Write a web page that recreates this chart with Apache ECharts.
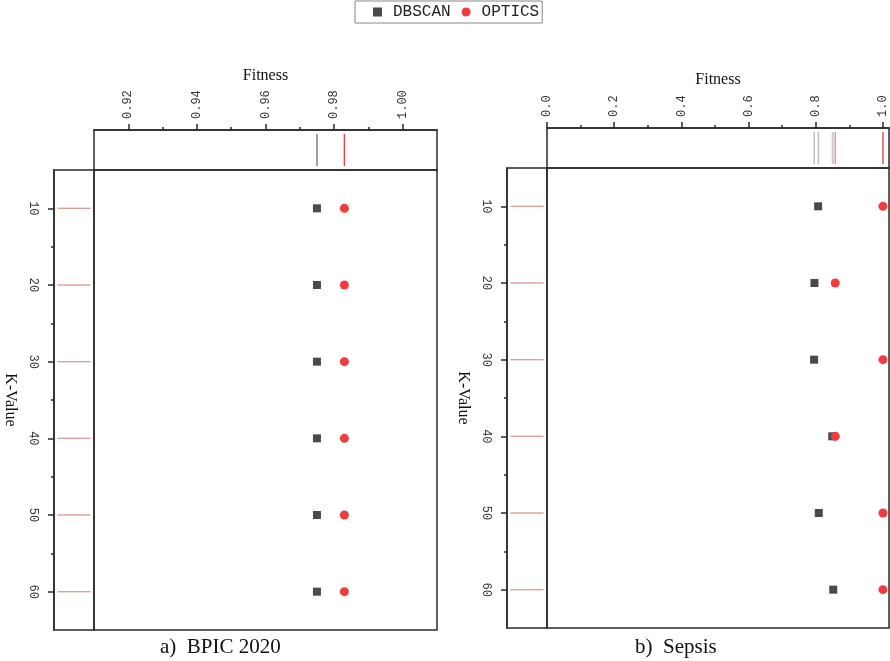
<!DOCTYPE html>
<html>
<head>
<meta charset="utf-8">
<script src="https://cdn.jsdelivr.net/npm/echarts@6/dist/echarts.min.js"></script>
<style>html,body{margin:0;padding:0;background:#fff}#c{width:890px;height:661px}</style>
</head>
<body>
<div id="c"></div>
<script>
// ---- data ----
var kValues = [10, 20, 30, 40, 50, 60];
var bpicDBSCAN = [0.975, 0.975, 0.975, 0.975, 0.975, 0.975];
var bpicOPTICS = [0.983, 0.983, 0.983, 0.983, 0.983, 0.983];
var sepsisDBSCAN = [0.807, 0.796, 0.795, 0.849, 0.809, 0.852];
var sepsisOPTICS = [1.0, 0.858, 1.0, 0.858, 1.0, 1.0];
var bpicTicks = [0.92, 0.94, 0.96, 0.98, 1.00];
var bpicMinor = [0.93, 0.95, 0.97, 0.99];
var sepsisTicks = [0.0, 0.2, 0.4, 0.6, 0.8, 1.0];
var sepsisMinor = [0.1, 0.3, 0.5, 0.7, 0.9];
var kTicks = [10, 20, 30, 40, 50, 60];
var kMinor = [15, 25, 35, 45, 55];
var captions = ['a)  BPIC 2020', 'b)  Sepsis'];

var LINE = '#2a2a2a';
var MONO = 'Liberation Mono';
var SERIF = 'Liberation Serif';
var SQ = '#4a4a4a';
var RD = '#f03c3c';
var RUG_G = 'rgba(140,140,140,0.6)';
var RUG_R = 'rgba(235,60,60,0.6)';

function pts(xs, ys) { return xs.map(function (x, i) { return [x, ys[i]]; }); }
function rugX(xs) { return xs.map(function (x) { return [x, 0.5]; }); }
function rugY(ys) { return ys.map(function (y) { return [0.5, y]; }); }

var gridStyle = { show: true, borderColor: LINE, borderWidth: 1.5, backgroundColor: 'transparent' };
function grid(l, t, w, h) { return Object.assign({ left: l, top: t, width: w, height: h }, gridStyle); }

var hidden = { show: false };
function hidAxis(gi, min, max, inv) {
  return { type: 'value', gridIndex: gi, min: min, max: max, inverse: !!inv, show: false, splitLine: hidden,
    axisLine: { show: false, onZero: false } };
}
function majorX(gi, min, max, ticks, fmt, gap) {
  return {
    type: 'value', gridIndex: gi, min: min, max: max, position: 'top',
    name: 'Fitness', nameLocation: 'middle', nameGap: gap,
    nameTextStyle: { fontFamily: SERIF, fontSize: 16, color: '#111' },
    axisLine: { show: true, onZero: false, lineStyle: { color: LINE, width: 1.5 } },
    axisTick: { show: true, inside: false, length: 6, customValues: ticks, lineStyle: { color: LINE, width: 1.5 } },
    axisLabel: { show: true, customValues: ticks, rotate: -90, margin: 11, fontFamily: MONO, fontSize: 12, color: '#333',
      formatter: function (v) { return v.toFixed(fmt); } },
    splitLine: hidden
  };
}
function minorX(gi, min, max, ticks) {
  return {
    type: 'value', gridIndex: gi, min: min, max: max, position: 'top', offset: 40,
    axisLine: { show: false, onZero: false },
    axisTick: { show: true, inside: false, length: 3, customValues: ticks, lineStyle: { color: LINE, width: 1.5 } },
    axisLabel: hidden, splitLine: hidden
  };
}
function majorY(gi, gap) {
  return {
    type: 'value', gridIndex: gi, min: 5, max: 65, inverse: true, position: 'left',
    name: 'K-Value', nameLocation: 'middle', nameGap: gap, nameRotate: -90,
    nameTextStyle: { fontFamily: SERIF, fontSize: 16, color: '#111' },
    axisLine: { show: true, onZero: false, lineStyle: { color: LINE, width: 1.5 } },
    axisTick: { show: true, inside: false, length: 6, customValues: kTicks, lineStyle: { color: LINE, width: 1.5 } },
    axisLabel: { show: true, customValues: kTicks, rotate: -90, margin: 15, fontFamily: MONO, fontSize: 12, color: '#333' },
    splitLine: hidden
  };
}
function minorY(gi) {
  return {
    type: 'value', gridIndex: gi, min: 5, max: 65, inverse: true, position: 'left', offset: 40,
    axisLine: { show: false, onZero: false },
    axisTick: { show: true, inside: false, length: 3, customValues: kMinor, lineStyle: { color: LINE, width: 1.5 } },
    axisLabel: hidden, splitLine: hidden
  };
}

function scatter(name, xi, data, sym, size, color) {
  return { type: 'scatter', name: name, xAxisIndex: xi, yAxisIndex: xi, data: data, symbol: sym, symbolSize: size,
    itemStyle: { color: color, opacity: 1 }, emphasis: { disabled: true }, silent: true, z: 3 };
}
function rug(name, xi, data, size, color) {
  return { type: 'scatter', name: name, xAxisIndex: xi, yAxisIndex: xi, data: data, symbol: 'rect', symbolSize: size,
    itemStyle: { color: color }, emphasis: { disabled: true }, silent: true, z: 2 };
}

var option = {
  animation: false,
  backgroundColor: '#fff',
  legend: {
    left: 355, top: 1, orient: 'horizontal',
    padding: [3, 3, 3, 18], itemGap: 11, itemWidth: 9, itemHeight: 9,
    borderColor: '#888', borderWidth: 1,
    textStyle: { fontFamily: MONO, fontSize: 16, color: '#222', padding: [0, 0, 0, 6] },
    data: [{ name: 'DBSCAN', icon: 'rect' }, { name: 'OPTICS', icon: 'circle' }]
  },
  grid: [
    grid(54, 170, 40, 460),   // 0 left rug
    grid(94, 170, 343, 460),  // 1 left main
    grid(94, 130, 343, 40),   // 2 left top
    grid(507, 168, 40, 460),  // 3 right rug
    grid(547, 168, 342, 460), // 4 right main
    grid(547, 128, 342, 40)   // 5 right top
  ],
  xAxis: [
    hidAxis(0, 0, 1),
    minorX(1, 0.91, 1.01, bpicMinor),
    majorX(2, 0.91, 1.01, bpicTicks, 2, 46),
    hidAxis(3, 0, 1),
    minorX(4, 0, 1.018, sepsisMinor),
    majorX(5, 0, 1.018, sepsisTicks, 1, 40)
  ],
  yAxis: [
    majorY(0, 36),
    minorY(1),
    hidAxis(2, 0, 1),
    majorY(3, 36),
    minorY(4),
    hidAxis(5, 0, 1)
  ],
  graphic: [
    { type: 'text', left: 160, top: 637, style: { text: captions[0], font: '21px "Liberation Serif"', fill: '#111' } },
    { type: 'text', left: 635, top: 637, style: { text: captions[1], font: '21px "Liberation Serif"', fill: '#111' } }
  ],
  series: [
    // left panel
    rug('DBSCAN rugY L', 0, rugY(kValues), [33, 1], RUG_G),
    rug('OPTICS rugY L', 0, rugY(kValues), [33, 1], RUG_R),
    scatter('DBSCAN', 1, pts(bpicDBSCAN, kValues), 'rect', 8, SQ),
    scatter('OPTICS', 1, pts(bpicOPTICS, kValues), 'circle', 9, RD),
    rug('DBSCAN rugX L', 2, rugX(bpicDBSCAN), [1, 32], RUG_G),
    rug('OPTICS rugX L', 2, rugX(bpicOPTICS), [1, 32], RUG_R),
    // right panel
    rug('DBSCAN rugY R', 3, rugY(kValues), [33, 1], RUG_G),
    rug('OPTICS rugY R', 3, rugY(kValues), [33, 1], RUG_R),
    scatter('DBSCAN', 4, pts(sepsisDBSCAN, kValues), 'rect', 8, SQ),
    scatter('OPTICS', 4, pts(sepsisOPTICS, kValues), 'circle', 9, RD),
    rug('DBSCAN rugX R', 5, rugX(sepsisDBSCAN), [1, 32], RUG_G),
    rug('OPTICS rugX R', 5, rugX(sepsisOPTICS), [1, 32], RUG_R)
  ]
};
var chart = echarts.init(document.getElementById('c'), null, { renderer: 'canvas' });
chart.setOption(option);
</script>
</body>
</html>
